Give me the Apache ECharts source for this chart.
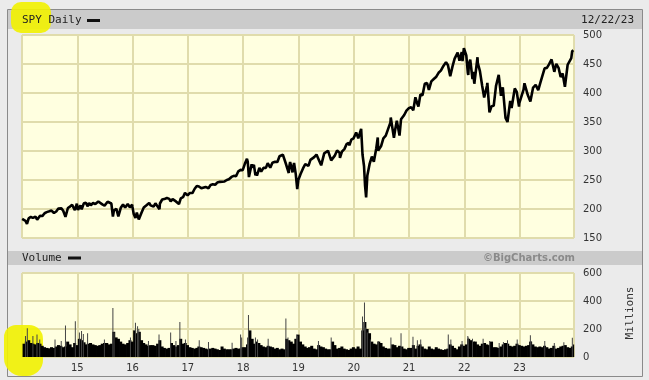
<!DOCTYPE html>
<html><head><meta charset="utf-8">
<script src="https://cdn.jsdelivr.net/npm/echarts@6/dist/echarts.min.js"></script>
<style>html,body{margin:0;padding:0;background:#ebebeb}#c{width:649px;height:380px}</style>
</head><body><div id="c"></div>
<script>
// ---------- DATA ----------
const yearTicks = ['15','16','17','18','19','20','21','22','23'];
const priceTicks = [150,200,250,300,350,400,450,500];
const volumeTicks = [0,200,400,600];

const price2014 = [['01-02',182.9],['01-15',184.7],['01-24',179.6],['02-03',174.2],['02-14',184.0],['02-28',186.3],['03-07',188.0],['03-14',184.7],['03-31',187.0],['04-04',186.4],['04-11',181.5],['04-30',188.3],['05-15',187.8],['05-30',192.7],['06-13',194.6],['06-30',196.0],['07-15',197.3],['07-31',193.1],['08-07',191.0],['08-15',195.7],['08-29',200.7],['09-18',201.0],['09-30',197.0],['10-15',186.4],['10-31',201.7],['11-14',204.2],['11-28',207.2],['12-05',208.0],['12-16',197.9],['12-29',209.2],['12-31',205.5]];
const price2015 = [['01-06',198.5],['01-15',199.0],['01-22',206.1],['01-30',199.4],['02-13',209.8],['02-27',210.7],['03-11',204.5],['03-20',210.4],['03-31',206.4],['04-15',210.4],['04-30',208.5],['05-20',213.0],['05-29',211.1],['06-15',208.0],['06-30',205.9],['07-08',204.6],['07-20',212.5],['07-31',210.5],['08-14',209.4],['08-24',187.0],['08-31',197.7],['09-16',200.2],['09-29',187.4],['10-15',202.0],['10-30',207.9],['11-03',210.4],['11-13',202.4],['11-30',208.7],['12-14',202.9],['12-29',207.4],['12-31',203.9]];
const price2016 = [['01-08',192.0],['01-20',184.5],['01-29',193.7],['02-11',182.0],['02-29',193.6],['03-15',202.5],['03-31',206.0],['04-20',210.5],['04-29',206.3],['05-19',204.2],['05-31',209.8],['06-08',212.4],['06-27',199.6],['06-30',209.5],['07-15',216.4],['07-29',217.1],['08-15',219.0],['08-31',217.4],['09-09',213.0],['09-22',217.0],['09-30',216.3],['10-14',213.1],['11-03',208.5],['11-15',218.3],['11-30',220.4],['12-13',227.8],['12-30',223.5]];
const price2017 = [['01-13',227.5],['01-31',227.5],['02-15',234.9],['02-28',236.5],['03-01',239.8],['03-15',238.9],['03-31',235.7],['04-13',232.5],['04-28',238.1],['05-17',235.8],['05-31',241.4],['06-15',242.6],['06-30',241.8],['07-14',245.6],['07-31',246.8],['08-11',243.8],['08-31',247.5],['09-15',250.0],['09-29',251.2],['10-16',255.3],['10-31',257.2],['11-15',256.4],['11-30',265.0],['12-15',267.5],['12-29',266.9]];
const price2018 = [['01-12',277.9],['01-26',286.6],['01-31',281.9],['02-08',255.0],['02-26',277.2],['02-28',271.7],['03-13',276.0],['03-23',258.0],['03-29',263.2],['04-02',257.5],['04-18',271.0],['04-30',264.5],['05-15',271.0],['05-31',270.9],['06-12',278.9],['06-29',271.3],['07-13',279.6],['07-31',281.3],['08-15',281.0],['08-29',291.0],['09-20',293.6],['09-28',290.7],['10-10',278.0],['10-29',262.0],['10-31',270.6],['11-07',281.0],['11-23',263.2],['11-30',275.7],['12-03',279.3],['12-14',260.5],['12-24',234.3],['12-31',249.9]];
const price2019 = [['01-15',260.4],['01-31',270.0],['02-15',277.4],['02-28',278.7],['03-08',274.5],['03-21',284.7],['03-29',282.5],['04-15',289.5],['04-30',294.0],['05-15',285.0],['05-31',275.3],['06-03',274.6],['06-20',295.9],['06-28',293.0],['07-15',300.5],['07-26',302.0],['08-05',283.8],['08-15',284.5],['08-30',292.5],['09-13',301.0],['09-30',296.8],['10-02',288.0],['10-15',299.0],['10-31',303.3],['11-15',311.8],['11-29',314.3],['12-03',309.6],['12-16',319.5],['12-31',321.9]];
const price2020 = [['01-17',332.0],['01-31',321.7],['02-19',338.3],['02-28',294.0],['03-09',274.2],['03-16',239.9],['03-23',220.0],['03-31',257.8],['04-15',277.8],['04-30',290.5],['05-13',281.6],['05-29',304.3],['06-08',323.2],['06-11',300.6],['06-30',308.4],['07-15',321.9],['07-31',326.5],['08-14',336.8],['08-31',349.3],['09-02',357.7],['09-23',322.6],['09-30',334.9],['10-12',352.4],['10-30',326.5],['11-09',354.6],['11-30',362.1],['12-15',369.6],['12-31',373.9]];
const price2021 = [['01-15',375.7],['01-29',370.1],['02-12',392.6],['02-26',380.4],['03-04',376.7],['03-17',397.3],['03-31',396.3],['04-15',415.9],['04-30',417.3],['05-12',405.4],['05-28',420.0],['06-15',424.5],['06-30',428.1],['07-15',434.8],['07-30',438.5],['08-16',446.6],['09-02',453.2],['09-15',447.9],['09-30',429.1],['10-04',428.6],['10-15',445.9],['10-29',459.3],['11-18',469.7],['11-30',455.6],['12-03',453.4],['12-15',470.6],['12-20',454.9],['12-29',477.5],['12-31',475.0]];
const price2022 = [['01-03',477.7],['01-14',464.7],['01-24',435.0],['01-27',431.2],['01-31',449.9],['02-09',457.5],['02-24',424.0],['02-28',436.6],['03-08',416.0],['03-29',461.6],['03-31',451.6],['04-14',437.8],['04-29',412.0],['05-12',392.3],['05-20',389.6],['05-31',412.9],['06-02',417.4],['06-16',366.7],['06-30',377.3],['07-14',377.9],['07-29',412.0],['08-16',431.3],['08-31',395.2],['09-12',409.9],['09-30',357.2],['10-13',350.0],['10-31',386.2],['11-09',374.1],['11-30',407.7],['12-13',402.0],['12-28',376.7],['12-30',382.4]];
const price2023 = [['01-05',379.4],['01-27',405.7],['02-02',416.8],['02-24',396.4],['03-13',385.4],['03-31',409.4],['04-17',413.9],['04-28',415.9],['05-04',405.1],['05-19',418.6],['05-31',417.9],['06-15',442.6],['06-30',443.3],['07-14',449.3],['07-31',457.8],['08-18',436.5],['08-31',450.4],['09-15',443.4],['09-29',427.5],['10-12',433.7],['10-27',410.7],['11-14',448.7],['11-30',456.4],['12-08',460.2],['12-14',472.0],['12-22',473.7]];

// volume base level, two values per month (millions)
const vol2014 = [95,110,120,100,95,90,100,95,80,70,65,62,70,65,75,85,80,70,75,110,90,70,100,85];
const vol2015 = [130,120,105,90,95,100,90,85,80,85,95,100,100,90,95,180,140,130,110,95,90,100,120,110];
const vol2016 = [190,170,180,120,100,90,80,85,85,80,95,120,75,65,60,65,100,85,75,85,130,95,100,85];
const vol2017 = [70,65,60,65,75,70,65,60,55,60,65,60,55,50,75,60,55,55,55,60,65,60,60,70];
const vol2018 = [70,90,190,130,95,110,100,85,75,70,80,75,70,60,65,55,60,55,130,120,110,95,130,160];
const vol2019 = [110,90,75,65,70,80,60,55,85,75,70,60,55,55,110,85,60,65,75,60,55,50,60,70];
const vol2020 = [60,75,60,190,250,200,170,110,95,90,110,100,75,65,60,60,90,85,70,80,75,60,55,65];
const vol2021 = [65,85,60,80,90,75,60,55,75,60,55,70,60,55,50,55,60,90,80,65,55,75,90,80];
const vol2022 = [90,130,120,110,110,90,80,95,100,90,85,110,70,70,65,75,90,100,95,80,75,80,95,85];
const vol2023 = [80,75,80,85,110,90,75,70,75,70,80,70,60,65,80,60,65,75,80,85,70,65,75,90];

// single-day volume spikes (millions)
const volSpikes = [['2014-01-24',150],['2014-02-05',205],['2014-03-14',150],['2014-04-10',160],['2014-04-28',125],['2014-08-07',125],['2014-09-17',115],['2014-10-15',225],['2014-12-19',255],
['2015-01-15',175],['2015-01-29',185],['2015-02-10',165],['2015-03-10',170],['2015-06-29',125],['2015-08-24',350],['2015-09-01',175],['2015-12-18',140],
['2016-01-20',245],['2016-02-03',220],['2016-02-11',200],['2016-04-15',115],['2016-06-24',160],['2016-09-09',175],['2016-10-14',115],['2016-11-09',250],['2016-12-16',125],
['2017-03-17',120],['2017-05-17',107],['2017-10-20',102],['2017-12-15',160],['2017-12-22',140],
['2018-01-30',140],['2018-02-05',300],['2018-03-23',140],['2018-04-06',125],['2018-06-15',130],['2018-10-10',275],['2018-10-24',140],['2018-12-21',160],['2018-12-24',150],
['2019-05-13',115],['2019-08-05',140],
['2020-02-28',290],['2020-03-12',390],['2020-03-20',210],['2020-03-31',175],['2020-04-20',125],['2020-06-11',115],['2020-09-03',140],['2020-11-09',170],
['2021-01-27',145],['2021-02-25',120],['2021-03-19',125],['2021-09-17',160],['2021-10-04',125],['2021-12-17',115],
['2022-01-24',150],['2022-01-27',140],['2022-02-24',130],['2022-05-05',130],['2022-06-17',115],['2022-08-19',100],['2022-09-16',107],['2022-10-13',120],['2022-12-16',125],
['2023-03-13',155],['2023-03-17',115],['2023-06-16',115],['2023-08-18',100],['2023-10-20',105],['2023-12-15',138]];

// ---------- helpers ----------
function dy(s){ const p=s.split('-').map(Number); const t=Date.UTC(p[0],p[1]-1,p[2]);
  const a=Date.UTC(p[0],0,1), b=Date.UTC(p[0]+1,0,1); return p[0]+(t-a)/(b-a); }
const priceYears = {2014:price2014,2015:price2015,2016:price2016,2017:price2017,2018:price2018,2019:price2019,2020:price2020,2021:price2021,2022:price2022,2023:price2023};
const priceData = [];
Object.keys(priceYears).forEach(y=>priceYears[y].forEach(d=>priceData.push([dy(y+'-'+d[0]), d[1]])));
const volYears = [vol2014,vol2015,vol2016,vol2017,vol2018,vol2019,vol2020,vol2021,vol2022,vol2023];
const volData = [];
volYears.forEach((arr,yi)=>arr.forEach((v,i)=>{
  const m = Math.floor(i/2)+1, d = i%2 ? 23 : 8;
  volData.push([dy((2014+yi)+'-'+String(m).padStart(2,'0')+'-'+String(d).padStart(2,'0')), v]);
}));
const spikeData = volSpikes.map(s=>[dy(s[0]), s[1]]);

const xMin = 2014, xMax = dy('2023-12-26');
const gridColor = '#e0dcac';
const labelFont = {fontFamily:'DejaVu Sans', fontSize:10, color:'#333'};
function xLabel(v){ const s=String(Math.round(v)%100).padStart(2,'0'); return (Math.abs(v-Math.round(v))<1e-6 && yearTicks.indexOf(s)>=0) ? s : ''; }

const chart = echarts.init(document.getElementById('c'), null, {renderer:'canvas'});
chart.setOption({
  backgroundColor:'#ebebeb',
  animation:false,
  grid:[
    {left:22, right:75, top:35, height:203, show:true, backgroundColor:'#ffffe0', borderColor:'#b8b8a8', borderWidth:1},
    {left:22, right:75, top:273, height:84, show:true, backgroundColor:'#ffffe0', borderColor:'#b8b8a8', borderWidth:1}
  ],
  xAxis:[
    {gridIndex:0, type:'value', min:xMin, max:xMax, interval:1, axisLine:{show:false}, axisTick:{show:false}, axisLabel:{show:false},
     splitLine:{show:true, lineStyle:{color:gridColor, width:2}}},
    {gridIndex:1, type:'value', min:xMin, max:xMax, interval:1, axisLine:{show:false}, axisTick:{show:false},
     axisLabel:Object.assign({show:true, margin:6, formatter:xLabel, showMinLabel:false, showMaxLabel:false}, labelFont),
     splitLine:{show:true, lineStyle:{color:gridColor, width:2}}}
  ],
  yAxis:[
    {gridIndex:0, type:'value', position:'right', min:priceTicks[0], max:priceTicks[priceTicks.length-1], interval:50,
     axisLine:{show:false}, axisTick:{show:false}, axisLabel:Object.assign({margin:9}, labelFont),
     splitLine:{show:true, lineStyle:{color:gridColor, width:2}}},
    {gridIndex:1, type:'value', position:'right', min:volumeTicks[0], max:volumeTicks[volumeTicks.length-1], interval:200,
     axisLine:{show:false}, axisTick:{show:false}, axisLabel:Object.assign({margin:9}, labelFont),
     splitLine:{show:true, lineStyle:{color:gridColor, width:2}}}
  ],
  series:[
    {type:'line', xAxisIndex:0, yAxisIndex:0, data:priceData, symbol:'none', lineStyle:{color:'#000', width:2.6}, z:3},
    {type:'bar', xAxisIndex:1, yAxisIndex:1, data:volData, barWidth:3, itemStyle:{color:'#000'}, z:3},
    {type:'bar', xAxisIndex:1, yAxisIndex:1, data:spikeData, barWidth:1, barGap:'-100%', itemStyle:{color:'#444'}, z:3}
  ],
  graphic:[
    {type:'rect', z:0, shape:{x:7.5, y:9.5, width:635, height:367}, style:{fill:null, stroke:'#8a8a8a', lineWidth:1}},
    {type:'rect', z:0, shape:{x:8, y:10, width:634, height:19}, style:{fill:'#cbcbcb'}},
    {type:'rect', z:0, shape:{x:8, y:251, width:634, height:14}, style:{fill:'#cbcbcb'}},
    {type:'rect', z:1, shape:{x:11, y:2, width:40, height:31, r:10}, style:{fill:'rgba(242,242,0,0.9)'}},
    {type:'rect', z:1, shape:{x:4, y:325, width:39, height:51, r:[12,14,16,18]}, style:{fill:'rgba(242,242,0,0.9)'}},
    {type:'text', z:5, x:22, y:20, style:{text:'SPY Daily', fill:'#222', font:'11px "DejaVu Sans Mono"', textVerticalAlign:'middle'}},
    {type:'rect', z:5, shape:{x:87, y:19, width:13, height:3}, style:{fill:'#111'}},
    {type:'text', z:5, x:634, y:20, style:{text:'12/22/23', fill:'#222', font:'11px "DejaVu Sans Mono"', textAlign:'right', textVerticalAlign:'middle'}},
    {type:'text', z:5, x:22, y:258, style:{text:'Volume', fill:'#222', font:'11px "DejaVu Sans Mono"', textVerticalAlign:'middle'}},
    {type:'rect', z:5, shape:{x:68, y:256.5, width:13, height:3}, style:{fill:'#111'}},
    {type:'text', z:5, x:575, y:258, style:{text:'©BigCharts.com', fill:'#8a8a8a', font:'bold 10px "DejaVu Sans"', textAlign:'right', textVerticalAlign:'middle'}},
    {type:'text', z:5, x:630, y:313, rotation:Math.PI/2, style:{text:'Millions', fill:'#333', font:'11px "DejaVu Sans Mono"', textAlign:'center', textVerticalAlign:'middle'}}
  ]
});
</script></body></html>
